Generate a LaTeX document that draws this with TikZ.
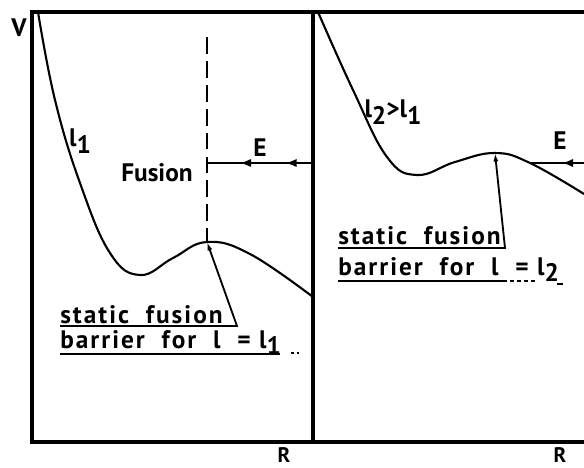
\documentclass[tikz,border=0pt]{standalone}
\usepackage{fontspec}
\setmainfont{PT Sans}
\usetikzlibrary{arrows.meta,decorations.markings}
\newcommand{\lo}[1]{\raisebox{-0.5ex}{#1}}

\begin{document}
\begin{tikzpicture}[x=0.025cm,y=-0.025cm, axis/.style={line width=2.2pt},
  curve/.style={line width=1.5pt,smooth,tension=0.7}, lbl/.style={font=\fontsize{18}{20}\selectfont\bfseries,inner sep=0pt},
  blbl/.style={lbl,anchor=base west,font=\fontsize{18}{20}\selectfont\bfseries\addfontfeature{LetterSpace=8}},
  uline/.style={line width=1.3pt}, ptr/.style={line width=1.3pt,-{Latex[length=6pt,width=3.5pt]}},
  flow/.style={line width=1.5pt,postaction={decorate}}, >={Latex[length=8pt,width=6pt]}]
  \useasboundingbox (0,0) rectangle (584,467);
  % frame of both panels
  \coordinate (tl) at (32,12); \coordinate (tr) at (584,12);
  \coordinate (bl) at (32,442); \coordinate (br) at (584,442);
  \coordinate (tm) at (313,12); \coordinate (bm) at (313,442);
  \draw[axis] (tr) -- (tl) -- (bl) -- (br);
  \draw[axis] (tm) -- (bm);
  \node[lbl] (V) at (19,28) {V};
  \node[lbl,font=\fontsize{15}{17}\selectfont\bfseries,anchor=base] (R1) at (284,462) {R};
  \node[lbl,font=\fontsize{15}{17}\selectfont\bfseries,anchor=base] (R2) at (560,462) {R};
  % potentials
  \coordinate (max1) at (207,242); \coordinate (max2) at (495,153);
  \draw[curve] plot coordinates {(38,12) (55,100) (80,183) (110,253) (140,275)
    (173,258) (207,242) (250,254) (313,297)};
  \draw[curve] plot coordinates {(318,12) (353,90) (387,157) (417,175)
    (455,162) (495,153) (530,163) (584,194)};
  \node[lbl] (L1) at (80,141) {l\lo{1}};
  \node[lbl] (L2) at (393,112) {l\lo{2}>l\lo{1}};
  % fusion line and energy
  \coordinate (dtop) at (207,37);
  \draw[line width=1.8pt,dash pattern=on 12pt off 5pt] (dtop) -- (max1);
  \node[lbl] (fus) at (157,173) {Fusion};
  \coordinate (fusE) at (207,163); \coordinate (axE) at (313,163);
  \coordinate (inE) at (584,163); \coordinate (cutE) at (530,163);
  \draw[flow,decoration={markings,mark=at position 0.26 with {\arrow{>}},mark=at position 0.69 with {\arrow{>}}}]
    (axE) -- (fusE);
  \draw[flow,decoration={markings,mark=at position 0.41 with {\arrow{>}}}] (inE) -- (cutE);
  \node[lbl] (E1) at (260,148) {E};
  \node[lbl] (E2) at (560,141) {E};
  % barrier labels
  \node[blbl] (sf1) at (60,323) {static\ \ fusion};
  \node[blbl] (bf1) at (60,348) {barrier\ \ for\ \ l\ \ =\ l\lo{1}};
  \coordinate (u1a) at (60,326); \coordinate (u1b) at (237,326);
  \coordinate (u2a) at (60,354); \coordinate (u2b) at (280,354);
  \coordinate (u2c) at (291,353); \coordinate (u2d) at (302,353);
  \draw[ptr] (u1a) -- (u1b) -- (max1);
  \draw[uline] (u2a) -- (u2b);
  \draw[uline,dash pattern=on 2pt off 2pt] (u2c) -- (u2d);
  \node[blbl] (sf2) at (338,244) {static\ \ fusion};
  \node[blbl] (bf2) at (338,275) {barrier\ \ for\ \ l\ \ =\ l\lo{2}};
  \coordinate (v1a) at (338,248); \coordinate (v1b) at (505,248);
  \coordinate (v2a) at (338,281); \coordinate (v2b) at (507,281);
  \coordinate (v2c) at (510,281); \coordinate (v2d) at (536,281);
  \coordinate (v2e) at (557,284); \coordinate (v2f) at (563,284);
  \draw[ptr] (v1a) -- (v1b) -- (max2);
  \draw[uline] (v2a) -- (v2b);
  \draw[uline,dash pattern=on 3pt off 2pt] (v2c) -- (v2d);
  \draw[uline] (v2e) -- (v2f);
\end{tikzpicture}
\end{document}
